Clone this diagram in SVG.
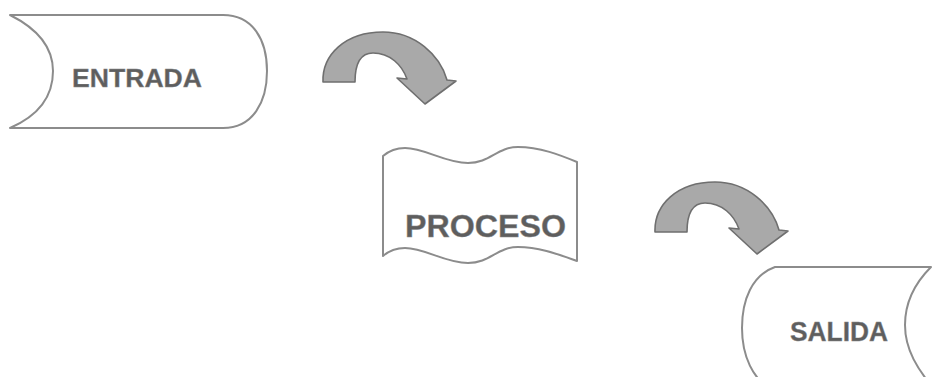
<svg xmlns="http://www.w3.org/2000/svg" width="933" height="377" viewBox="0 0 933 377">
<style>
.shape{fill:#ffffff;stroke:#8c8c8c;stroke-width:2;stroke-linejoin:round}
.lbl{font-family:"Liberation Sans",Arial,sans-serif;font-weight:bold;fill:#5e5e5e;stroke:#8a8a8a;stroke-width:0.4}
.arrow{fill:#a9a9a9;stroke:#6f6f6f;stroke-width:1.6;stroke-linejoin:round}
</style>
<defs>
<path id="curvedArrow" d="M323,82 C322,55 345,32 383,32 C415,32 440,55 447,80 L456,81 L425,104 L397,78 L407,79 C402,65 390,53 373,53 C360,53 355,65 355,82 Z"/>
</defs>
<rect width="933" height="377" fill="#ffffff"/>
<g id="entrada">
<path class="shape" d="M10,15 L223,15 C253,15 267,40 267,71 C267,102 253,128 223,128 L10,128 C40,115 53,95 53,71 C53,50 40,30 10,15 Z"/>
<text class="lbl" x="72" y="87" font-size="26" textLength="130" lengthAdjust="spacingAndGlyphs">ENTRADA</text>
</g>
<g id="proceso">
<path class="shape" d="M383,156 C390,150 396,148 405,148 C425,148 445,163 468,163 C490,163 497,147 518,147 C540,147 560,155 577,162 L577,261 C560,255 540,247 518,247 C497,247 490,263 468,263 C445,263 425,248 405,248 C396,248 390,250 383,256 Z"/>
<text class="lbl" x="405" y="237" font-size="32" textLength="161" lengthAdjust="spacingAndGlyphs">PROCESO</text>
</g>
<g id="salida">
<path class="shape" d="M775,267 L931,267 C913,285 905,305 905,325 C905,350 918,370 935,390 L775,392 C752,380 742,355 742,328 C742,300 752,275 775,267 Z"/>
<text class="lbl" x="790" y="341" font-size="27" textLength="98" lengthAdjust="spacingAndGlyphs">SALIDA</text>
</g>
<g id="connectors">
<use href="#curvedArrow" class="arrow"/>
<use href="#curvedArrow" class="arrow" transform="translate(332,150)"/>
</g>
</svg>
